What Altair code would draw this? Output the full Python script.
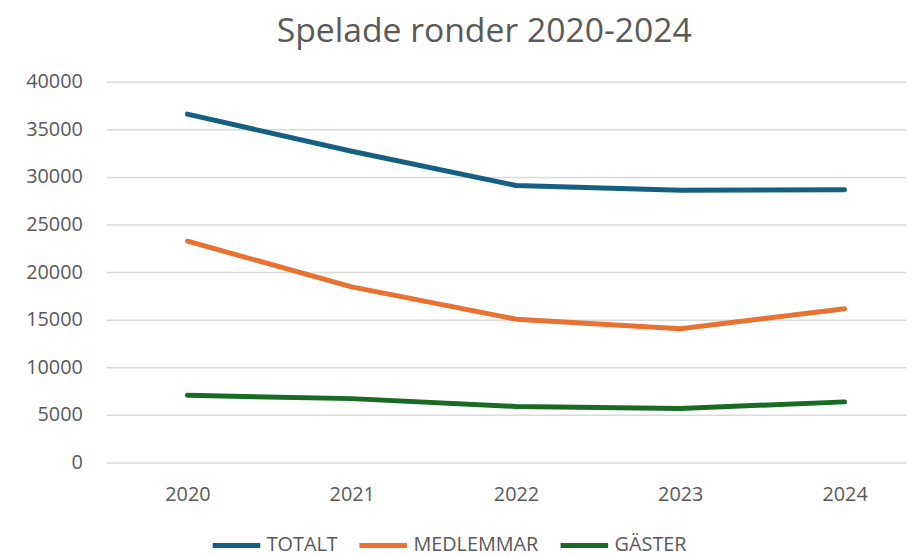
import altair as alt
import pandas as pd

years = [2020, 2021, 2022, 2023, 2024]
totalt = [36600, 32700, 29100, 28600, 28650]
medlemmar = [23250, 18450, 15050, 14050, 16150]
gaster = [7050, 6700, 5880, 5670, 6360]

series = ["TOTALT", "MEDLEMMAR", "GÄSTER"]
colors = ["#156082", "#E97132", "#196B24"]

rows = []
for name, vals in zip(series, [totalt, medlemmar, gaster]):
    for y, v in zip(years, vals):
        rows.append({"År": y, "Ronder": v, "Serie": name})
df = pd.DataFrame(rows)

FONT = "Open Sans"
TXT = "#595959"

chart = alt.Chart(df).mark_line(
    strokeWidth=5, strokeCap="round", strokeJoin="round"
).encode(
    x=alt.X("År:Q",
            scale=alt.Scale(domain=[2019.505, 2024.374], nice=False, zero=False),
            axis=alt.Axis(values=years, format="d", title=None, grid=False,
                          domain=False, ticks=False, labelFontSize=20,
                          labelColor=TXT, labelFont=FONT, labelPadding=22)),
    y=alt.Y("Ronder:Q",
            scale=alt.Scale(domain=[0, 40000], nice=False),
            axis=alt.Axis(values=list(range(0, 40001, 5000)), format="d",
                          title=None, domain=False, ticks=False,
                          labelFontSize=20, labelColor=TXT, labelFont=FONT,
                          labelPadding=24, gridColor="#D9D9D9",
                          gridWidth=1.5)),
    color=alt.Color("Serie:N",
                    scale=alt.Scale(domain=series, range=colors),
                    sort=series,
                    legend=alt.Legend(title=None, orient="none",
                                      direction="horizontal",
                                      legendX=105, legendY=441,
                                      symbolType="stroke",
                                      symbolSize=2300,
                                      symbolStrokeWidth=5,
                                      labelFontSize=20, labelColor=TXT,
                                      labelFont=FONT, labelOffset=4,
                                      columnPadding=11)),
).properties(
    width=807,
    height=384,
    title=alt.TitleParams("Spelade ronder 2020-2024", fontSize=34,
                          font=FONT, color=TXT, fontWeight="normal",
                          anchor="middle", dx=-22, offset=23),
    padding={"left": 99, "top": 72, "right": 0, "bottom": 92},
    autosize=alt.AutoSizeParams(type="none"),
).configure_view(stroke=None)

chart.save("out.html", embed_options={"renderer": "svg", "actions": False})
